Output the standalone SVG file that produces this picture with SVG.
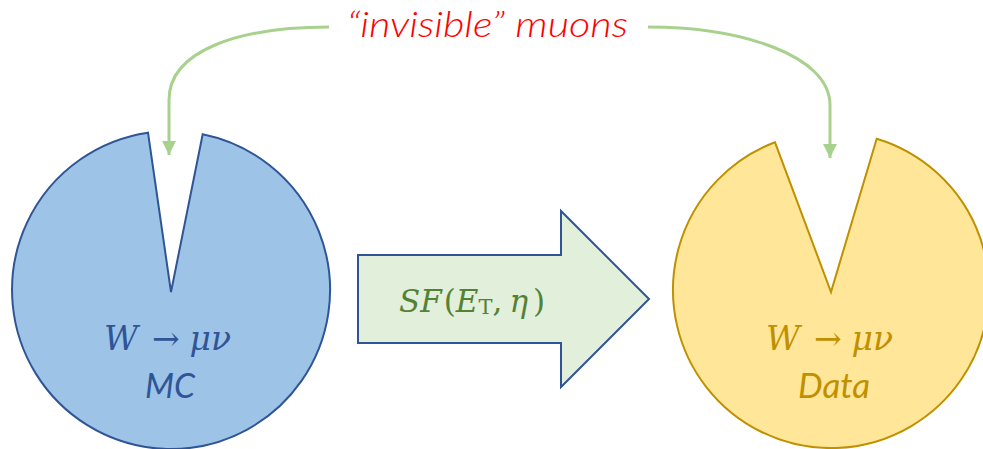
<svg xmlns="http://www.w3.org/2000/svg" width="983" height="449" viewBox="0 0 983 449">
<defs>
<style>
.conn{fill:none;stroke:#A9D18E;stroke-width:3}
.math{font-family:"DejaVu Serif","Liberation Serif",serif;font-style:italic}
.up{font-style:normal}
.lbl{font-family:Lato,"Open Sans",sans-serif;font-style:italic}
</style>
<marker id="ah" markerUnits="userSpaceOnUse" markerWidth="14" markerHeight="14" viewBox="0 0 14 14" refX="14" refY="7" orient="auto">
<path d="M0,0 L14,7 L0,14 Z" fill="#A9D18E"/>
</marker>
</defs>
<rect width="983" height="449" fill="#FFFFFF"/>
<g id="connectors">
<path class="conn" d="M329,27 C240,27 169,50 169,100 L169,155" marker-end="url(#ah)"/>
<path class="conn" d="M648,27 C740,27 830,55 830,105 L830,158" marker-end="url(#ah)"/>
</g>
<g id="title">
<text x="347" y="37" textLength="281" lengthAdjust="spacingAndGlyphs" font-family="Lato,'Open Sans',sans-serif" font-style="italic" font-weight="300" font-size="35" fill="#FF0000">“invisible” muons</text>
</g>
<g id="mc">
<path d="M148,132.7 A159,159 0 1 0 202.7,134.2 L171,292 Z" fill="#9DC3E6" stroke="#2F5597" stroke-width="2" stroke-linejoin="miter"/>
<text class="math" font-size="33" fill="#2F5597" x="104" y="350">W<tspan class="up" dx="14">→</tspan><tspan dx="10">μν</tspan></text>
<text class="lbl" x="145" y="398" font-size="35" textLength="50" lengthAdjust="spacingAndGlyphs" fill="#2F5597">MC</text>
</g>
<g id="sf">
<path d="M358,255 L561,255 L561,211 L649,299 L561,387 L561,343 L358,343 Z" fill="#E2EFDA" stroke="#2F5597" stroke-width="2"/>
<text class="math" font-size="31" fill="#548235" x="399" y="312">SF<tspan class="up" dx="2">(</tspan>E<tspan class="up" font-size="21" dy="2">T</tspan><tspan class="up" dy="-2">,</tspan><tspan dx="7">η</tspan><tspan class="up" dx="5">)</tspan></text>
</g>
<g id="data">
<path d="M775,142.3 A158,158 0 1 0 876.7,138.8 L831,292 Z" fill="#FFE699" stroke="#BF9000" stroke-width="2"/>
<text class="math" font-size="33" fill="#BF9000" x="766" y="350">W<tspan class="up" dx="14">→</tspan><tspan dx="10">μν</tspan></text>
<text class="lbl" x="798" y="398" font-size="35" textLength="72" lengthAdjust="spacingAndGlyphs" fill="#BF9000">Data</text>
</g>
</svg>
